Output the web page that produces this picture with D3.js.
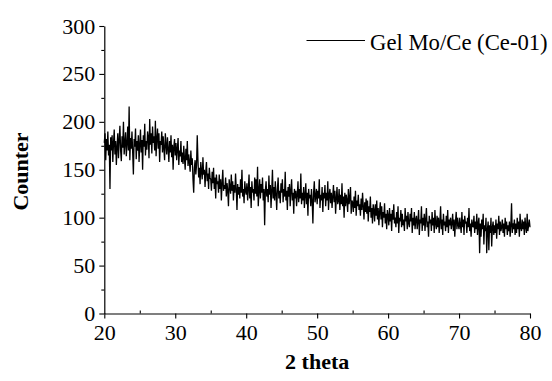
<!DOCTYPE html>
<html>
<head>
<meta charset="utf-8">
<script src="https://cdnjs.cloudflare.com/ajax/libs/d3/7.8.5/d3.min.js"></script>
<style>
  body { margin: 0; background: #fff; }
  text { font-family: "Liberation Serif", "Times New Roman", serif; fill: #000; }
</style>
</head>
<body>
<div id="chart"></div>
<script>
// 2-theta grid: 20.0 .. 80.0, one reading every 0.1 degree
var thetaStart = 20, thetaStep = 0.1;

// counts, one row per degree
var counts = [
  178,188,160,182,170,190,165,176,130,184,   // 20
  170,186,158,178,192,166,180,155,174,188,   // 21
  162,181,196,170,159,185,173,200,166,178,   // 22
  189,164,177,195,170,216,160,183,172,190,   // 23
  168,145,182,174,193,161,180,170,186,158,   // 24
  176,192,168,181,150,186,174,198,165,180,   // 25
  171,190,184,162,203,176,188,167,195,178,   // 26
  185,170,201,164,182,193,172,188,158,180,   // 27
  176,190,168,185,172,160,188,176,166,184,   // 28
  172,158,180,168,186,163,176,150,174,182,   // 29
  165,178,160,172,183,155,170,164,180,158,   // 30
  168,156,175,162,150,172,160,180,154,166,   // 31
  158,148,170,155,162,140,126,152,160,145,   // 32
  155,186,160,142,152,135,158,148,140,163,   // 33
  145,150,132,148,158,138,146,130,152,142,   // 34
  140,128,148,136,152,130,142,120,145,135,   // 35
  138,126,145,130,140,118,136,150,128,134,   // 36
  130,142,122,136,128,112,140,132,125,145,   // 37
  128,138,118,134,126,146,130,108,135,124,   // 38
  132,120,140,126,150,122,130,115,138,128,   // 39
  124,136,118,130,145,120,132,110,138,126,   // 40
  130,118,142,125,140,122,153,112,128,140,   // 41
  120,135,126,142,118,130, 92,128,138,122,   // 42
  130,116,144,124,134,110,128,150,120,132,   // 43
  118,138,125,108,130,142,120,128,115,136,   // 44
  126,140,116,130,122,148,118,128,108,132,   // 45
  122,135,112,128,140,118,126,104,130,120,   // 46
  128,112,124,138,116,130,120,146,114,126,   // 47
  118,132,110,124,136,114,126,102,130,120,   // 48
  124,112,130,118, 94,126,138,116,122,130,   // 49
  114,128,120,140,110,124,118,132,106,126,   // 50
  120,134,112,126,118,138,108,124,130,115,   // 51
  126,110,122,134,116,128,104,120,132,114,   // 52
  118,130,108,124,114,136,112,122,100,126,   // 53
  112,124,118,106,130,114,120,132,104,118,   // 54
  116,106,122,110,128,102,118,112,124,108,   // 55
  114,102,120,108,126,112, 98,116,106,120,   // 56
  104,118, 96,112,106,122,100,110, 94,114,   // 57
  108, 96,114,102,118, 98,110, 92,106,116,   // 58
   98,112, 90,106,100,115, 94,104, 88,108,   // 59
  102, 92,110, 96,104, 86,108, 98,114, 94,   // 60
  100, 90,106, 94,112, 84,100, 96,108, 90,   // 61
  104, 92, 98, 86,110, 96,102, 88,106, 94,   // 62
   90,104, 96,110, 84,100, 92,106, 88, 98,   // 63
  102, 88, 96,108, 82, 98, 94,112, 86,100,   // 64
   92,104, 86, 98,110, 90, 96, 80,102, 94,   // 65
   98, 86,106, 92,100, 84,108, 94, 88,102,   // 66
   90,100, 84, 96,112, 88, 98, 82,104, 92,   // 67
   96, 86,102, 90,108, 84, 98, 92,100, 88,   // 68
   94,104, 86, 98, 80, 96,106, 88,100, 92,   // 69
   88,100, 92, 84,106, 90, 98, 82,102, 94,   // 70
   96, 84,100, 90,110, 86, 94, 80, 98, 92,   // 71
   90,102, 84, 96, 88,104, 82, 94,100, 63,   // 72
   94, 80, 98, 88,104, 72, 92, 86,100, 63,   // 73
   88, 96, 66, 92, 84,100, 70, 90, 96, 82,   // 74
   92, 84, 98, 78, 94, 88,102, 82, 96, 86,   // 75
   90, 98, 84, 94, 80,100, 88, 96, 82, 92,   // 76
   86, 96, 80, 92,115, 84, 94, 88, 98, 82,   // 77
   94, 84,100, 88, 96, 80,104, 90, 86, 98,   // 78
   88, 96, 82,100, 90, 84,104, 86, 92, 98,   // 79
   90                                         // 80
];

var xTicks = [20, 30, 40, 50, 60, 70, 80];
var xMinor = [25, 35, 45, 55, 65, 75];
var yTicks = [0, 50, 100, 150, 200, 250, 300];
var yMinor = [25, 75, 125, 175, 225, 275];
var seriesName = "Gel Mo/Ce (Ce-01)";

var width = 552, height = 381;
var margin = { top: 26, right: 22, bottom: 67.5, left: 104.3 };
var innerWidth = width - margin.left - margin.right,
    innerHeight = height - margin.top - margin.bottom;

var data = counts.map(function(c, i) { return [thetaStart + i * thetaStep, c]; });

var xScale = d3.scaleLinear().domain([20, 80]).range([0, innerWidth]);
var yScale = d3.scaleLinear().domain([0, 300]).range([innerHeight, 0]);

var svg = d3.select("#chart").append("svg")
    .attr("width", width)
    .attr("height", height)
    .attr("font-family", "Liberation Serif, Times New Roman, serif");

var g = svg.append("g")
    .attr("transform", "translate(" + margin.left + "," + margin.top + ")");

// pattern
var line = d3.line()
    .x(function(d) { return xScale(d[0]); })
    .y(function(d) { return yScale(d[1]); });

g.append("path")
    .datum(data)
    .attr("fill", "none")
    .attr("stroke", "#000")
    .attr("stroke-width", 1.3)
    .attr("stroke-linejoin", "miter")
    .attr("d", line);

// minor ticks (x inward, y outward), no labels
g.append("g")
    .attr("transform", "translate(0," + innerHeight + ")")
    .call(d3.axisBottom(xScale).tickValues(xMinor).tickSize(-3).tickFormat(""))
    .call(function(a) { a.select(".domain").remove(); a.selectAll("text").remove(); });

g.append("g")
    .call(d3.axisLeft(yScale).tickValues(yMinor).tickSize(3).tickFormat(""))
    .call(function(a) { a.select(".domain").remove(); a.selectAll("text").remove(); });

// major axes
g.append("g")
    .attr("transform", "translate(0," + innerHeight + ")")
    .call(d3.axisBottom(xScale).tickValues(xTicks).tickSizeInner(5).tickSizeOuter(0).tickPadding(6));

g.append("g")
    .call(d3.axisLeft(yScale).tickValues(yTicks).tickSizeInner(5).tickSizeOuter(0).tickPadding(4));

g.selectAll(".domain").attr("stroke-width", 1.2);
g.selectAll(".tick line").attr("stroke-width", 1.1);
g.selectAll("g").attr("font-family", null).attr("font-size", null);
g.selectAll(".tick text")
    .style("font-size", "22px");

// axis titles
g.append("text")
    .attr("x", innerWidth / 2)
    .attr("y", 369 - margin.top)
    .attr("text-anchor", "middle")
    .style("font-size", "22px")
    .style("font-weight", "bold")
    .text("2 theta");

g.append("text")
    .attr("transform", "translate(" + (28 - margin.left) + "," + (171.5 - margin.top) + ") rotate(-90)")
    .attr("text-anchor", "middle")
    .style("font-size", "22px")
    .style("font-weight", "bold")
    .text("Counter");

// legend
var legend = svg.append("g");
legend.append("line")
    .attr("x1", 306.5).attr("x2", 365)
    .attr("y1", 40.5).attr("y2", 40.5)
    .attr("stroke", "#000")
    .attr("stroke-width", 1);
legend.append("text")
    .attr("x", 370)
    .attr("y", 50)
    .style("font-size", "22.7px")
    .text(seriesName);
</script>
</body>
</html>
